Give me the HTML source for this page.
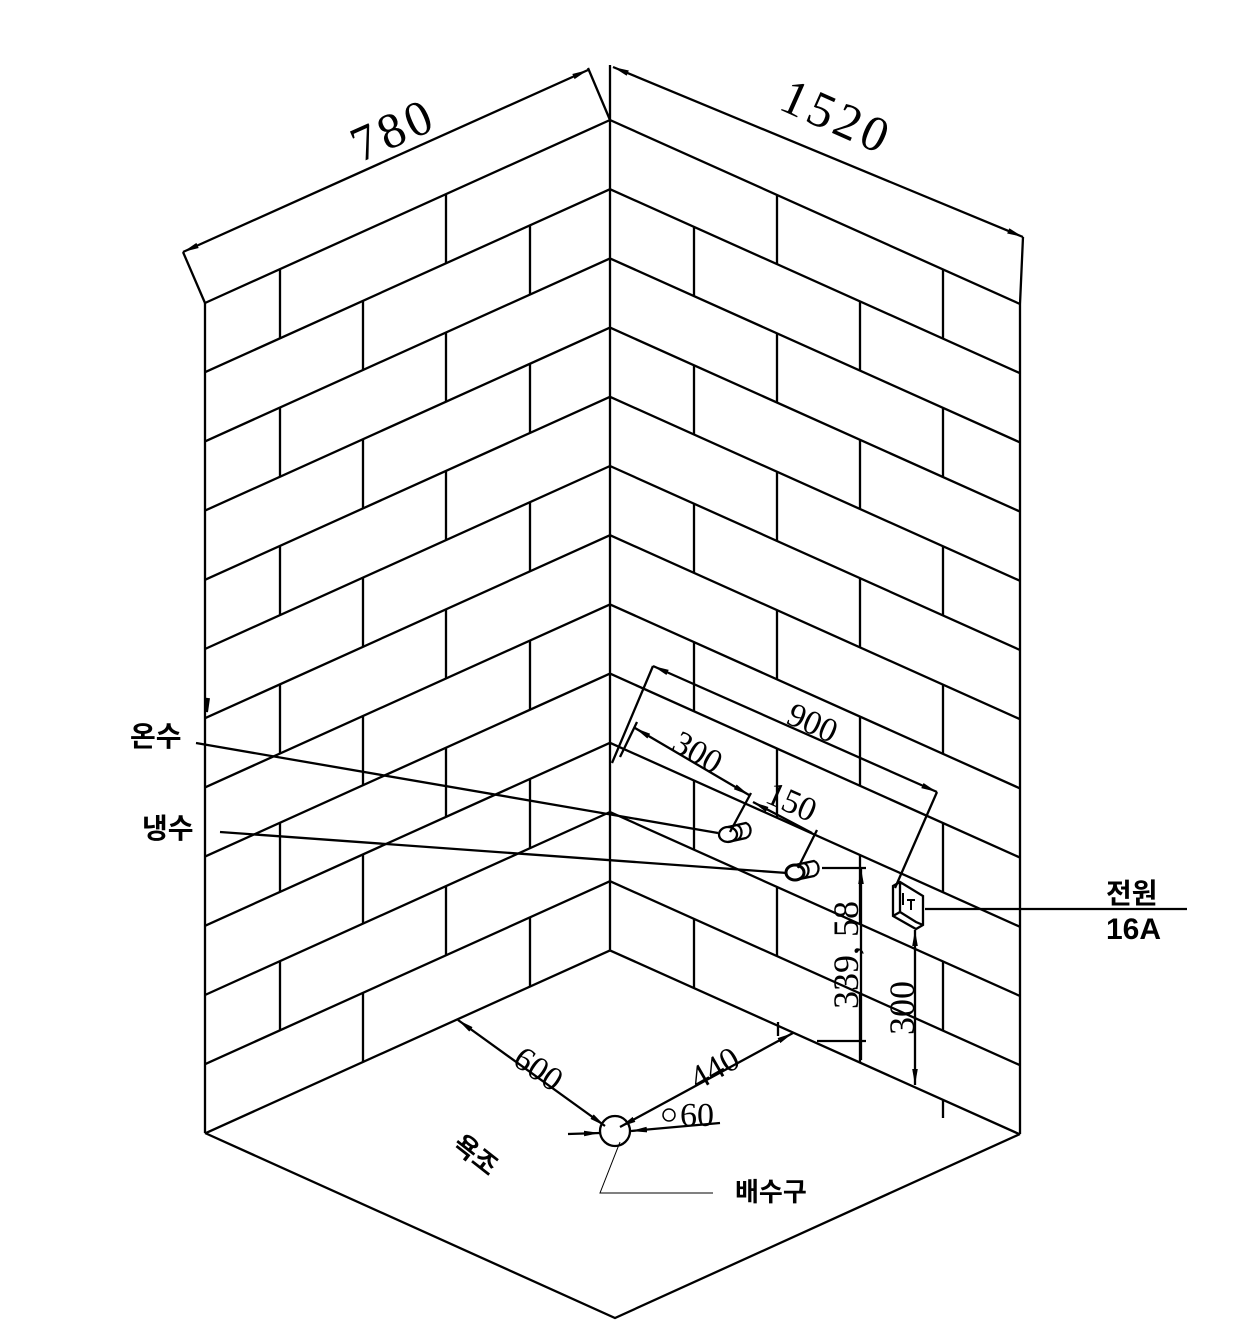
<!DOCTYPE html>
<html><head><meta charset="utf-8">
<style>
html,body{margin:0;padding:0;background:#fff;}
svg{display:block;}
.k{font-family:"Liberation Sans","Noto Sans CJK KR","NanumGothic",sans-serif;font-weight:bold;fill:#000;}
.n{font-family:"Liberation Serif",serif;fill:#000;}
</style></head><body>
<svg width="1248" height="1322" viewBox="0 0 1248 1322" xmlns="http://www.w3.org/2000/svg">
<defs>
<marker id="a" viewBox="0 0 10 10" refX="10" refY="5" markerWidth="16" markerHeight="8" orient="auto-start-reverse" markerUnits="userSpaceOnUse" preserveAspectRatio="none"><path d="M0,1.5 L10,5 L0,8.5 z" fill="#000"/></marker>
</defs>
<g stroke="#000" stroke-width="2.3" fill="none">
<path d="M205 303 V1133 M610 65 V950 M1020 304 V1134 M205 1133 L615 1318 L1020 1134"/>
<path d="M205 303 L610 120 M205 372.2 L610 189.2 M205 441.4 L610 258.4 M205 510.6 L610 327.6 M205 579.8 L610 396.8 M205 649 L610 466 M205 718.2 L610 535.2 M205 787.4 L610 604.4 M205 856.6 L610 673.6 M205 925.8 L610 742.8 M205 995 L610 812 M205 1064.2 L610 881.2 M205 1133.4 L610 950.4"/>
<path d="M610 120 L1020 304 M610 189.2 L1020 373.2 M610 258.4 L1020 442.4 M610 327.6 L1020 511.6 M610 396.8 L1020 580.8 M610 466 L1020 650 M610 535.2 L1020 719.2 M610 604.4 L1020 788.4 M610 673.6 L1020 857.6 M610 742.8 L1020 926.8 M610 812 L1020 996 M610 881.2 L1020 1065.2 M610 950.4 L1020 1134.4"/>
<path d="M280 269.1 v69.2 M280 407.5 v69.2 M280 545.9 v69.2 M280 684.3 v69.2 M280 822.7 v69.2 M280 961.1 v69.2
M446 194.1 v69.2 M446 332.5 v69.2 M446 470.9 v69.2 M446 609.3 v69.2 M446 747.7 v69.2 M446 886.1 v69.2
M363 300.8 v69.2 M363 439.2 v69.2 M363 577.6 v69.2 M363 716 v69.2 M363 854.4 v69.2 M363 992.8 v69.2
M530 225.3 v69.2 M530 363.7 v69.2 M530 502.1 v69.2 M530 640.5 v69.2 M530 778.9 v69.2 M530 917.3 v69.2"/>
<path d="M777 195 v69.2 M777 333.4 v69.2 M777 471.8 v69.2 M777 610.2 v69.2 M777 748.6 v69.2 M777 887 v69.2
M943 269.5 v69.2 M943 407.9 v69.2 M943 546.3 v69.2 M943 684.7 v69.2 M943 823.1 v69.2 M943 961.5 v69.2
M694 226.9 v69.2 M694 365.3 v69.2 M694 503.7 v69.2 M694 642.1 v69.2 M694 780.5 v69.2 M694 918.9 v69.2
M860 301.5 v69.2 M860 439.9 v69.2 M860 578.3 v69.2 M860 716.7 v69.2 M860 855.1 v69.2 M860 993.5 v69.2
M943 1100 v18 M778 1022 v14"/>
<path d="M206 712 l2 -14" stroke-width="4"/>
<path d="M205 303 L183 252 M610 120 L588 68 M1020 304 L1023 237"/>
<line x1="183" y1="252" x2="588" y2="70" marker-start="url(#a)" marker-end="url(#a)"/>
<line x1="613" y1="67" x2="1023" y2="237" marker-start="url(#a)" marker-end="url(#a)"/>
<path d="M653 666 L612 763 M637 722 L620 757 M937 792 L895 888 M751 793 L730 832 M817 830 L798 868"/>
<line x1="653" y1="666" x2="937" y2="792" marker-start="url(#a)" marker-end="url(#a)"/>
<line x1="635" y1="728" x2="749" y2="795" marker-start="url(#a)" marker-end="url(#a)"/>
<line x1="753" y1="802" x2="812" y2="833" marker-start="url(#a)"/>
<path d="M196 743 L718 833 M220 832 L787 873 M822 868 H866 M925 909 H1187"/>
<path d="M817 1041 H866 M861 1041 V1060"/>
<line x1="861" y1="1041" x2="861" y2="868" marker-end="url(#a)"/>
<line x1="915" y1="930" x2="915" y2="1085" marker-start="url(#a)" marker-end="url(#a)"/>
<path d="M728 827 L746 823 A7 8 0 0 1 746 838 L728 842"/>
<ellipse cx="728" cy="834.5" rx="9" ry="7.5"/>
<path d="M737 825 A7 8 0 0 1 737 840"/>
<path d="M795 865 L814 861 A7 8 0 0 1 814 876 L795 880"/>
<ellipse cx="795" cy="872.5" rx="9" ry="7.5" stroke-width="3"/>
<path d="M804 863 A7 8 0 0 1 804 878"/>
<path d="M893 886 L900 882 L923 896 L923 925 L916 929 L893 916 Z M900 882 L900 912 L916 922 L923 925 M900 912 L893 916"/>
<path d="M903 893 v12 M907 900 h8 M911 900 v10" stroke-width="2"/>
<line x1="458" y1="1020" x2="605" y2="1126" marker-start="url(#a)" marker-end="url(#a)"/>
<line x1="793" y1="1033" x2="620" y2="1127" marker-start="url(#a)" marker-end="url(#a)"/>
<circle cx="615" cy="1131" r="15"/>
<line x1="568" y1="1134" x2="600" y2="1133" marker-end="url(#a)"/>
<line x1="720" y1="1123" x2="631" y2="1131" marker-end="url(#a)"/>
<path d="M620 1142 L600 1193 H713" stroke-width="1"/>
<circle cx="669" cy="1115" r="6" stroke-width="1.5"/>
</g>
<text class="n" font-size="50" transform="translate(400,145) rotate(-24)" text-anchor="middle" letter-spacing="4">780</text>
<text class="n" font-size="50" transform="translate(830,132) rotate(24)" text-anchor="middle" letter-spacing="4">1520</text>
<text class="n" font-size="34" transform="translate(808,733) rotate(24)" text-anchor="middle">900</text>
<text class="n" font-size="34" transform="translate(692,762) rotate(30)" text-anchor="middle">300</text>
<text class="n" font-size="34" transform="translate(787,812) rotate(24)" text-anchor="middle">150</text>
<text class="n" font-size="36" transform="translate(858,955) rotate(-90)" text-anchor="middle">339, 58</text>
<text class="n" font-size="36" transform="translate(914,1008) rotate(-90)" text-anchor="middle">300</text>
<text class="n" font-size="34" transform="translate(532,1078) rotate(35)" text-anchor="middle">600</text>
<text class="n" font-size="34" transform="translate(720,1078) rotate(-30)" text-anchor="middle">440</text>
<text class="n" font-size="34" x="680" y="1126">60</text>
<text class="k" font-size="28" x="130" y="746">온수</text>
<text class="k" font-size="28" x="142" y="838">냉수</text>
<text class="k" font-size="28" x="1106" y="903">전원</text>
<text class="k" font-size="30" font-weight="normal" x="1106" y="939">16A</text>
<text class="k" font-size="26" x="735" y="1201">배수구</text>
<text class="k" font-size="26" transform="translate(470,1162) rotate(38)" text-anchor="middle">욕조</text>
</svg>
</body></html>
